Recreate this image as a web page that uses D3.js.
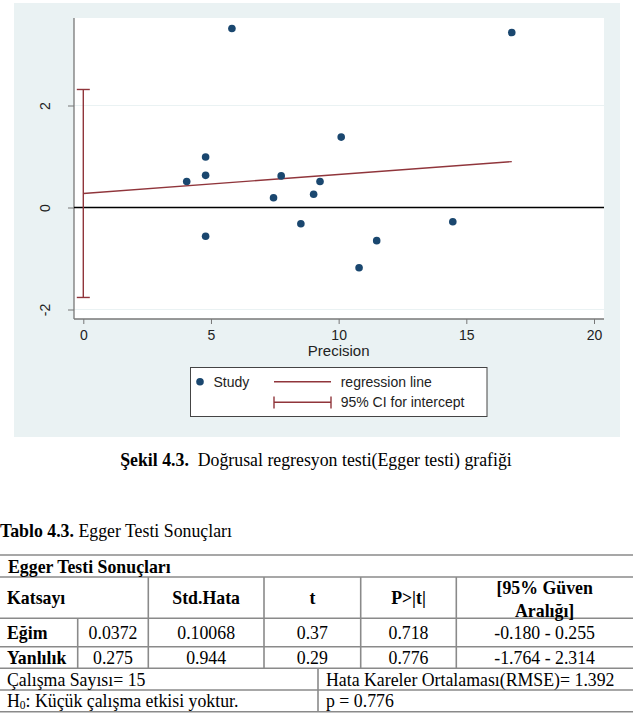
<!doctype html>
<html lang="tr">
  <head>
    <meta charset="utf-8">
    <title>Egger testi grafiği</title>
    <script src="https://d3js.org/d3.v7.min.js"></script>
    <style>
      body { margin: 0; background: #fff; }
      svg { display: block; }
    </style>
  </head>

  <body>
    <svg width="633" height="721"></svg>
    <script>
      // study points: precision (1/SE) vs standardized effect
      var precision = [5.82, 4.79, 4.79, 4.05, 7.75, 9.27, 10.1, 7.45, 9.02, 4.79, 8.52, 10.8, 11.49, 14.47, 16.78];
      var stdEffect = [3.51, 0.99, 0.63, 0.51, 0.62, 0.51, 1.38, 0.19, 0.26, -0.565, -0.32, -1.18, -0.65, -0.28, 3.43];

      var slope = 0.0372, intercept = 0.275;
      var ciLow = -1.764, ciHigh = 2.314;

      var xTicks = [0, 5, 10, 15, 20];
      var yTicks = [-2, 0, 2];

      // table content
      var tableTitle = "Egger Testi Sonuçları";
      var tableHead = ["Katsayı", "Std.Hata", "t", "P>|t|"];
      var tableHeadCI = ["[95% Güven", "Aralığı]"];
      var rowNames = ["Eğim", "Yanlılık"];
      var coefs = ["0.0372", "0.275"];
      var stdErrs = ["0.10068", "0.944"];
      var tVals = ["0.37", "0.29"];
      var pVals = ["0.718", "0.776"];
      var ciVals = ["-0.180 - 0.255", "-1.764 - 2.314"];
      var nStudies = "Çalışma Sayısı= 15";
      var rmse = "Hata Kareler Ortalaması(RMSE)= 1.392";
      var pText = "p = 0.776";

      var svg = d3.select('svg');
      var sans = "'Liberation Sans', Arial, sans-serif";
      var serif = "'Liberation Serif', 'Times New Roman', serif";
      var navy = '#1a476f', maroon = '#90353b';
      var serifSize = '17.8px';

      // graph region
      svg.append('rect')
        .attr('x', 14).attr('y', 3).attr('width', 606).attr('height', 434)
        .style('fill', '#eaf2f3');
      svg.append('rect')
        .attr('x', 74).attr('y', 18).attr('width', 530).attr('height', 301)
        .style('fill', '#fff');

      var x = d3.scaleLinear().domain([0, 20]).range([83.3, 594]);
      var y = d3.scaleLinear().domain([-2, 2]).range([309.5, 105.5]);

      // grid lines
      svg.selectAll('.grid')
        .data(yTicks.filter(function(d){ return d !== 0; }))
        .enter().append('line')
          .attr('x1', 74).attr('x2', 604)
          .attr('y1', function(d){ return y(d); })
          .attr('y2', function(d){ return y(d); })
          .style('stroke', '#eaf2f3').style('stroke-width', 1.2);

      // x axis
      var xAxis = svg.append('g')
        .attr('transform', 'translate(0,319)')
        .call(d3.axisBottom(x).tickValues(xTicks).tickSize(5).tickPadding(6));
      xAxis.select('.domain').remove();
      xAxis.append('line').attr('x1', 74).attr('x2', 604)
        .style('stroke', '#777').style('stroke-width', 1.3);
      xAxis.selectAll('.tick line').style('stroke', '#777');
      xAxis.selectAll('.tick text')
        .style('font-family', sans).style('font-size', '14px').style('fill', '#222');

      svg.append('text')
        .attr('x', x(10)).attr('y', 356)
        .attr('text-anchor', 'middle')
        .style('font-family', sans).style('font-size', '15px').style('fill', '#222')
        .text('Precision');

      // y axis
      var yAxis = svg.append('g')
        .attr('transform', 'translate(74,0)')
        .call(d3.axisLeft(y).tickValues(yTicks).tickSize(6)
          .tickFormat(function(d){ return String(d); }));
      yAxis.select('.domain').remove();
      yAxis.append('line').attr('y1', 18).attr('y2', 319)
        .style('stroke', '#777').style('stroke-width', 1.3);
      yAxis.selectAll('.tick line').style('stroke', '#777');
      yAxis.selectAll('.tick text')
        .attr('x', null).attr('dy', null)
        .attr('transform', 'translate(-29,0) rotate(-90)')
        .attr('text-anchor', 'middle')
        .attr('dominant-baseline', 'central')
        .style('font-family', sans).style('font-size', '14px').style('fill', '#222');

      // zero line
      svg.append('line')
        .attr('x1', 74).attr('x2', 604)
        .attr('y1', y(0)).attr('y2', y(0))
        .style('stroke', '#000').style('stroke-width', 1.5);

      // CI for intercept
      var ci = svg.append('g').style('stroke', maroon).style('stroke-width', 1.4);
      ci.append('line')
        .attr('x1', x(0)).attr('x2', x(0))
        .attr('y1', y(ciLow)).attr('y2', y(ciHigh));
      [ciLow, ciHigh].forEach(function(v){
        ci.append('line')
          .attr('x1', x(0) - 6.5).attr('x2', x(0) + 6.5)
          .attr('y1', y(v)).attr('y2', y(v));
      });

      // regression line
      var xMax = d3.max(precision);
      svg.append('line')
        .attr('x1', x(0)).attr('y1', y(intercept))
        .attr('x2', x(xMax)).attr('y2', y(intercept + slope * xMax))
        .style('stroke', maroon).style('stroke-width', 1.4);

      // points
      svg.selectAll('circle.study')
        .data(d3.range(precision.length))
        .enter().append('circle')
          .attr('class', 'study')
          .attr('cx', function(i){ return x(precision[i]); })
          .attr('cy', function(i){ return y(stdEffect[i]); })
          .attr('r', 3.8)
          .style('fill', navy);

      // legend
      var lg = svg.append('g');
      lg.append('rect')
        .attr('x', 190.5).attr('y', 367.5).attr('width', 296.5).attr('height', 49)
        .style('fill', '#fff').style('stroke', '#444').style('stroke-width', 1);
      lg.append('circle').attr('cx', 200).attr('cy', 381.7).attr('r', 3.8).style('fill', navy);
      lg.append('line').attr('x1', 274).attr('x2', 331).attr('y1', 381.7).attr('y2', 381.7)
        .style('stroke', maroon).style('stroke-width', 1.4);
      lg.append('line').attr('x1', 274).attr('x2', 331).attr('y1', 402.3).attr('y2', 402.3)
        .style('stroke', maroon).style('stroke-width', 1.4);
      [274, 331].forEach(function(xx){
        lg.append('line').attr('x1', xx).attr('x2', xx).attr('y1', 396.5).attr('y2', 408.5)
          .style('stroke', maroon).style('stroke-width', 1.4);
      });
      var legendText = [['Study', 213.5, 381.7], ['regression line', 340.7, 381.7], ['95% CI for intercept', 340.7, 402.3]];
      lg.selectAll('text.lab')
        .data(legendText)
        .enter().append('text')
          .attr('x', function(d){ return d[1]; })
          .attr('y', function(d){ return d[2]; })
          .attr('dominant-baseline', 'central')
          .style('font-family', sans).style('font-size', '14px').style('fill', '#222')
          .text(function(d){ return d[0]; });

      // figure caption
      var cap = svg.append('text')
        .attr('x', 316).attr('y', 466)
        .attr('text-anchor', 'middle')
        .style('font-family', serif).style('font-size', serifSize).style('fill', '#000');
      cap.append('tspan').style('font-weight', 'bold').text('Şekil 4.3.');
      cap.append('tspan').text('\u00a0 Doğrusal regresyon testi(Egger testi) grafiği');

      // table caption
      var tcap = svg.append('text')
        .attr('x', 0).attr('y', 537)
        .style('font-family', serif).style('font-size', serifSize).style('fill', '#000');
      tcap.append('tspan').style('font-weight', 'bold').text('Tablo 4.3.');
      tcap.append('tspan').text(' Egger Testi Sonuçları');

      // table grid
      var colEdges = [0, 77.7, 148.3, 264, 360.7, 456.3, 633];
      var rowEdges = [555, 577, 618.3, 646.7, 668.3, 690, 711.7];
      var tg = svg.append('g').style('stroke', '#8a8a8a').style('stroke-width', 1.6);
      rowEdges.forEach(function(ry){
        tg.append('line').attr('x1', 0).attr('x2', 633).attr('y1', ry).attr('y2', ry);
      });
      [2, 3, 4, 5].forEach(function(c){
        tg.append('line').attr('x1', colEdges[c]).attr('x2', colEdges[c])
          .attr('y1', rowEdges[1]).attr('y2', rowEdges[4]);
      });
      tg.append('line').attr('x1', colEdges[1]).attr('x2', colEdges[1])
        .attr('y1', rowEdges[2]).attr('y2', rowEdges[4]);
      tg.append('line').attr('x1', 318).attr('x2', 318)
        .attr('y1', rowEdges[4]).attr('y2', rowEdges[6]);

      function cell(txt, cx, cy, anchor, bold){
        return svg.append('text')
          .attr('x', cx).attr('y', cy)
          .attr('text-anchor', anchor)
          .attr('dominant-baseline', 'central')
          .style('font-family', serif).style('font-size', serifSize)
          .style('font-weight', bold ? 'bold' : 'normal')
          .style('fill', '#000')
          .text(txt);
      }
      function mid(c){ return (colEdges[c] + colEdges[c + 1]) / 2; }

      cell(tableTitle, 8, 567, 'start', true);
      cell(tableHead[0], 7, 598.3, 'start', true);
      cell(tableHead[1], mid(2), 598.3, 'middle', true);
      cell(tableHead[2], mid(3), 598.3, 'middle', true);
      cell(tableHead[3], mid(4), 598.3, 'middle', true);
      cell(tableHeadCI[0], mid(5), 588, 'middle', true);
      cell(tableHeadCI[1], mid(5), 610.5, 'middle', true);

      var rowMid = [633, 658];
      rowNames.forEach(function(name, i){
        cell(name, 7, rowMid[i], 'start', true);
        cell(coefs[i], mid(1), rowMid[i], 'middle');
        cell(stdErrs[i], mid(2), rowMid[i], 'middle');
        cell(tVals[i], mid(3), rowMid[i], 'middle');
        cell(pVals[i], mid(4), rowMid[i], 'middle');
        cell(ciVals[i], mid(5), rowMid[i], 'middle');
      });

      cell(nStudies, 7, 679.5, 'start');
      cell(rmse, 326, 679.5, 'start');
      var h0 = cell('H', 7, 701, 'start');
      h0.append('tspan').style('font-size', '11.5px').attr('dy', 4).text('0');
      h0.append('tspan').attr('dy', -4).text(': Küçük çalışma etkisi yoktur.');
      cell(pText, 326, 701, 'start');
    </script>
  </body>
</html>
